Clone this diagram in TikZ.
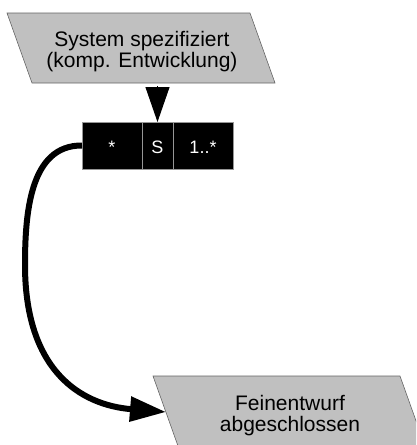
\documentclass[tikz,border=0pt]{standalone}
\usepackage{fontspec}
\setmainfont{Liberation Sans}
\usetikzlibrary{arrows.meta}
\definecolor{paragray}{RGB}{192,192,192}
\definecolor{bordergray}{RGB}{100,100,100}
\definecolor{cellgray}{RGB}{150,150,150}
\begin{document}
\begin{tikzpicture}[x=1pt,y=-1pt,
  para/.style={fill=paragray, draw=bordergray, line width=0.6pt},
  lbl/.style={font=\fontsize{21}{20.8}\selectfont, align=center, text=black, inner sep=0pt},
  cell/.style={fill=black, draw=cellgray, line width=0.6pt, minimum height=47pt, text=white,
    font=\fontsize{18}{20}\selectfont, inner sep=0pt, outer sep=0pt,
    text height=15pt, text depth=0pt},
  flow/.style={line width=6pt, -{Triangle[length=36pt,width=24pt]}},
  feed/.style={line width=1pt, -{Triangle[length=35pt,width=24pt]}}]
\useasboundingbox (0,0) rectangle (416,445);
\clip (0,0) rectangle (416,445);
% top parallelogram
\path[para] (7,13) -- (250,13) -- (275,83) -- (32,83) -- cycle;
\node[lbl] (sys) at (142,51.5) {System spezifiziert\\(komp. Entwicklung)};
\coordinate (sysb) at (157.5,86);
% cells
\node[cell, minimum width=60pt] (c1) at (112,145.5) {*};
\node[cell, minimum width=31pt] (c2) at (157.5,145.5) {S};
\node[cell, minimum width=60pt] (c3) at (203,145.5) {1..*};
\draw[feed] (sysb) -- (c2.north);
% bottom parallelogram
\path[para] (153,376) -- (400,376) -- (425,446) -- (178,446) -- cycle;
\node[lbl] (fein) at (290,415.5) {Feinentwurf\\abgeschlossen};
\coordinate (feinL) at (166,412);
\draw[flow] (c1.west) .. controls (30,145) and (25,213) .. (25,265)
  .. controls (25,370) and (80,405) .. (feinL);
\end{tikzpicture}
\end{document}
